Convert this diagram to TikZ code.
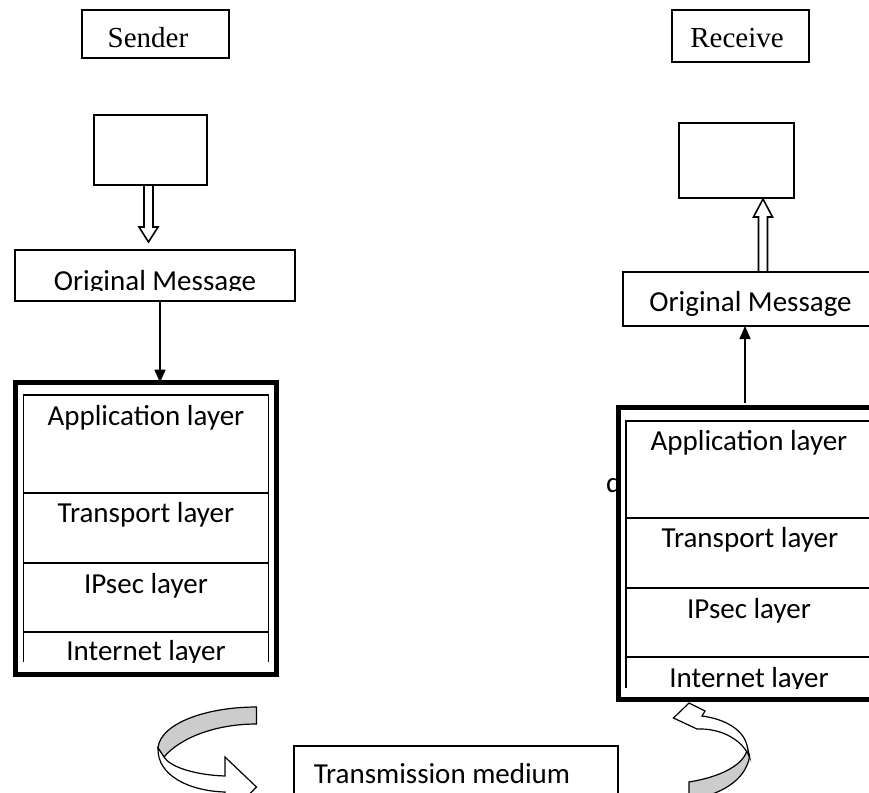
\documentclass[tikz,border=0pt]{standalone}
\usepackage{fontspec}
\setmainfont{Carlito}
\newfontfamily\timesf{Liberation Serif}
\usetikzlibrary{arrows.meta,calc}
\begin{document}
\begin{tikzpicture}[x=1pt,y=-1pt,
  thin/.style={line width=1.6pt},
  rbox/.style={draw,thin,inner sep=0pt,outer sep=0pt,fill=white},
  stackbox/.style={draw,line width=5pt,inner sep=0pt,outer sep=0pt,fill=white,minimum width=261pt,minimum height=292pt},
  lbl/.style={font=\fontsize{29}{34}\selectfont,inner sep=0pt,anchor=base},
  ser/.style={font=\timesf\fontsize{29}{34}\selectfont,inner sep=0pt,anchor=base},
  hollow/.style={draw,thin,fill=white,line join=miter},
  conn/.style={draw,thin,-{Triangle[width=11pt,length=13pt]}},
  back/.style={draw,line width=1.2pt,fill=black!20},
  front/.style={draw,line width=1.2pt,fill=white,line join=miter}]
\useasboundingbox (0,0) rectangle (869,792);
\clip (0,0) rectangle (869,792);

% top labels
\node[rbox,minimum width=147pt,minimum height=48pt] (sender) at (155.5,34) {};
\node[ser] (sendert) at (148,48) {Sender};
\node[rbox,minimum width=137pt,minimum height=52pt] (receive) at (740.5,36) {};
\node[ser] (receivet) at (737,48) {Receive};

% empty boxes
\node[rbox,minimum width=113pt,minimum height=70pt] (boxL) at (150.5,150) {};
\node[rbox,minimum width=115pt,minimum height=75pt] (boxR) at (736.5,160.5) {};

% original message boxes
\node[rbox,minimum width=280pt,minimum height=51pt] (omL) at (155,275.5) {};
\begin{scope}
  \clip (0,0) rectangle (869,290);
  \node[lbl] (omLt) at (155,290) {Original Message};
\end{scope}
\node[rbox,minimum width=280pt,minimum height=54pt] (omR) at (763,299) {};
\node[lbl] (omRt) at (750.5,311) {Original Message};

% hollow arrows
\path[hollow] ([xshift=-6.5pt]boxL.south) -- ++(0,42) -- ++(-5,0) -- ++(9.5,15) -- ++(9.5,-15) -- ++(-5,0) -- ++(0,-42) -- cycle;
\path[hollow] ([xshift=-4.5pt]omR.north) -- ++(0,-55) -- ++(-5,0) -- ++(9.5,-18) -- ++(9.5,18) -- ++(-5,0) -- ++(0,55) -- cycle;

% stray character
\node[lbl,anchor=base west] (dfrag) at (606,492) {d};

% left stack
\node[stackbox] (stackL) at (146,528.5) {};
\draw[thin] (23.5,662) -- (23.5,395) -- (268.5,395) -- (268.5,662);
\draw[thin] (23.5,492.7) -- (268.5,492.7);
\draw[thin] (23.5,562.7) -- (268.5,562.7);
\draw[thin] (23.5,632) -- (268.5,632);
\node[lbl] (appL) at (146,425) {Application layer};
\node[lbl] (trL) at (146,522) {Transport layer};
\node[lbl] (ipL) at (146,593) {IPsec layer};
\begin{scope}
  \clip (0,0) rectangle (869,662);
  \node[lbl] (inL) at (146,660) {Internet layer};
\end{scope}

% right stack
\node[stackbox] (stackR) at (749,553.5) {};
\draw[thin] (626,688) -- (626,421) -- (871,421) -- (871,688);
\draw[thin] (626,518) -- (871,518);
\draw[thin] (626,588) -- (871,588);
\draw[thin] (626,657) -- (871,657);
\node[lbl] (appR) at (749,450) {Application layer};
\node[lbl] (trR) at (750,547) {Transport layer};
\node[lbl] (ipR) at (749,618) {IPsec layer};
\begin{scope}
  \clip (0,0) rectangle (869,688);
  \node[lbl] (inR) at (749,687) {Internet layer};
\end{scope}

% connectors
\draw[conn] ([xshift=5pt]omL.south) -- ([xshift=14pt]stackL.north);
\draw[conn,shorten <=5pt] ([xshift=-4pt]stackR.north) -- ([xshift=-18pt]omR.south);

% transmission medium
\node[rbox,minimum width=324pt,minimum height=70pt] (trans) at (456,781) {};
\node[lbl] (transt) at (442,783) {Transmission medium};

% left curved arrow
\path[back] (256.5,707) .. controls (205,707) and (160,724) .. (158,748)
  -- (164,757) .. controls (180,738) and (215,724) .. (256.5,724) -- cycle;
\path[front] (158,748) .. controls (157,776) and (190,791) .. (225,792)
  -- (225,818) -- (256.5,787) -- (225,757) -- (225,776)
  .. controls (195,775) and (170,767) .. (164,757) -- cycle;

% right curved arrow
\path[back] (689,782) .. controls (720,777) and (745,765) .. (747.5,748)
  -- (749.5,757) .. controls (745,781) and (720,795) .. (689,800) -- cycle;
\path[front] (747.5,748) .. controls (745,730) and (725,719) .. (702,716)
  -- (705,711) -- (689,703) -- (673.5,718) -- (697,729)
  .. controls (720,728) and (742,739) .. (749.5,757) -- cycle;
\end{tikzpicture}
\end{document}
